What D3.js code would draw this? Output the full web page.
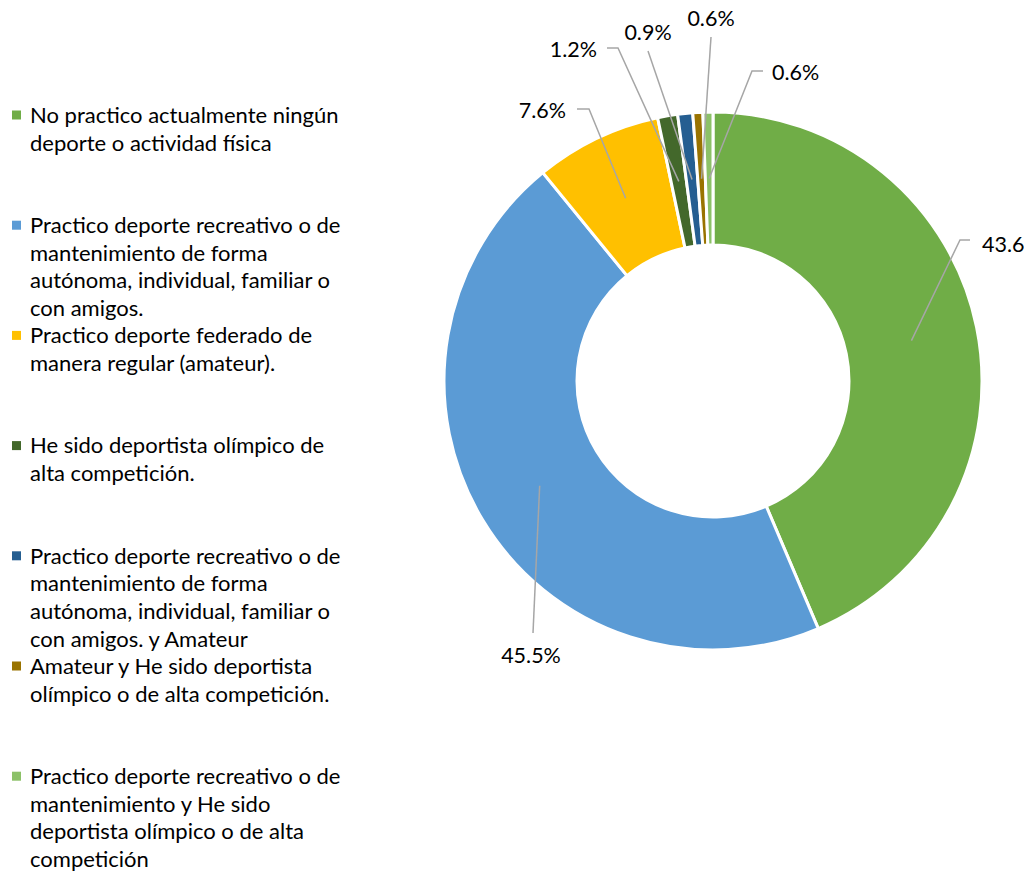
<!DOCTYPE html>
<html><head><meta charset="utf-8">
<script src="https://cdn.jsdelivr.net/npm/d3@7"></script>
<style>body{margin:0;background:#fff;overflow:hidden}svg{display:block}</style>
</head><body>
<svg id="chart" width="1024" height="875"></svg>
<script>
// ---- data ----
const categories = [
  "No practico actualmente ningún deporte o actividad física",
  "Practico deporte recreativo o de mantenimiento de forma autónoma, individual, familiar o con amigos.",
  "Practico deporte federado de manera regular (amateur).",
  "He sido deportista olímpico de alta competición.",
  "Practico deporte recreativo o de mantenimiento de forma autónoma, individual, familiar o con amigos. y Amateur",
  "Amateur y He sido deportista olímpico o de alta competición.",
  "Practico deporte recreativo o de mantenimiento y He sido deportista olímpico o de alta competición"
];
const values = [43.6, 45.5, 7.6, 1.2, 0.9, 0.6, 0.6];
// the first label is shown truncated at the right edge in the original
const valueLabels = ["43.6", "45.5%", "7.6%", "1.2%", "0.9%", "0.6%", "0.6%"];
const legendLines = [
  ["No practico actualmente ningún", "deporte o actividad física"],
  ["Practico deporte recreativo o de", "mantenimiento de forma", "autónoma, individual, familiar o", "con amigos."],
  ["Practico deporte federado de", "manera regular (amateur)."],
  ["He sido deportista olímpico de", "alta competición."],
  ["Practico deporte recreativo o de", "mantenimiento de forma", "autónoma, individual, familiar o", "con amigos. y Amateur"],
  ["Amateur y He sido deportista", "olímpico o de alta competición."],
  ["Practico deporte recreativo o de", "mantenimiento y He sido", "deportista olímpico o de alta", "competición"]
];
const colors = ["#70AD47", "#5B9BD5", "#FFC000", "#43682B", "#255E91", "#997300", "#8CC168"];

// ---- layout (label placement, relative to pie centre) ----
const labelLayout = [
  {x: 269, y: -137, anchor: "start", pts: [[247, -141], [257, -141]]},
  {x: -182, y: 274, anchor: "middle", pts: [[-180, 252]]},
  {x: -147, y: -271, anchor: "end", pts: [[-124, -272], [-136, -272]]},
  {x: -116, y: -332, anchor: "end", pts: [[-95, -333], [-106, -333]]},
  {x: -65, y: -349, anchor: "middle", pts: [[-65, -330]]},
  {x: -2, y: -363, anchor: "middle", pts: [[-2, -344]]},
  {x: 59, y: -309, anchor: "start", pts: [[39, -310], [50, -310]]}
];

const FONT = "Lato, 'Open Sans', sans-serif";
const svg = d3.select("#chart");
const cx = 713, cy = 381, rOuter = 269, rInner = 136;

const pie = d3.pie().sort(null).value(d => d);
const arcs = pie(values);
const arc = d3.arc().innerRadius(rInner).outerRadius(rOuter);

const g = svg.append("g").attr("transform", `translate(${cx},${cy})`);
g.selectAll("path.slice").data(arcs).join("path")
  .attr("class", "slice")
  .attr("d", arc)
  .attr("fill", (d, i) => colors[i])
  .attr("stroke", "#fff")
  .attr("stroke-width", 3)
  .attr("stroke-linejoin", "miter");

// leader lines
const line = d3.line();
g.selectAll("path.leader").data(arcs).join("path")
  .attr("class", "leader")
  .attr("d", (d, i) => line([arc.centroid(d), ...labelLayout[i].pts]))
  .attr("fill", "none")
  .attr("stroke", "#A6A6A6")
  .attr("stroke-width", 1.5);

g.selectAll("text.lbl").data(arcs).join("text")
  .attr("class", "lbl")
  .attr("x", (d, i) => labelLayout[i].x)
  .attr("y", (d, i) => labelLayout[i].y)
  .attr("dy", "0.35em")
  .attr("text-anchor", (d, i) => labelLayout[i].anchor)
  .attr("font-family", FONT)
  .attr("font-size", 21.5)
  .attr("fill", "#000")
  .text((d, i) => valueLabels[i]);

// legend
const legendTop = 115, legendStep = 110.2, lineH = 27.8;
const lg = svg.append("g");
const items = lg.selectAll("g.item").data(categories).join("g")
  .attr("class", "item")
  .attr("transform", (d, i) => `translate(0,${legendTop + i * legendStep})`);
items.append("rect")
  .attr("x", 12).attr("y", -4.5).attr("width", 9).attr("height", 9)
  .attr("fill", (d, i) => colors[i]);
items.append("text")
  .attr("font-family", FONT)
  .attr("font-size", 22)
  .attr("fill", "#000")
  .each(function(d, i) {
    d3.select(this).selectAll("tspan").data(legendLines[i]).join("tspan")
      .attr("x", 30)
      .attr("y", (t, j) => j * lineH)
      .attr("dy", "0.35em")
      .text(t => t);
  });
</script>
</body></html>
